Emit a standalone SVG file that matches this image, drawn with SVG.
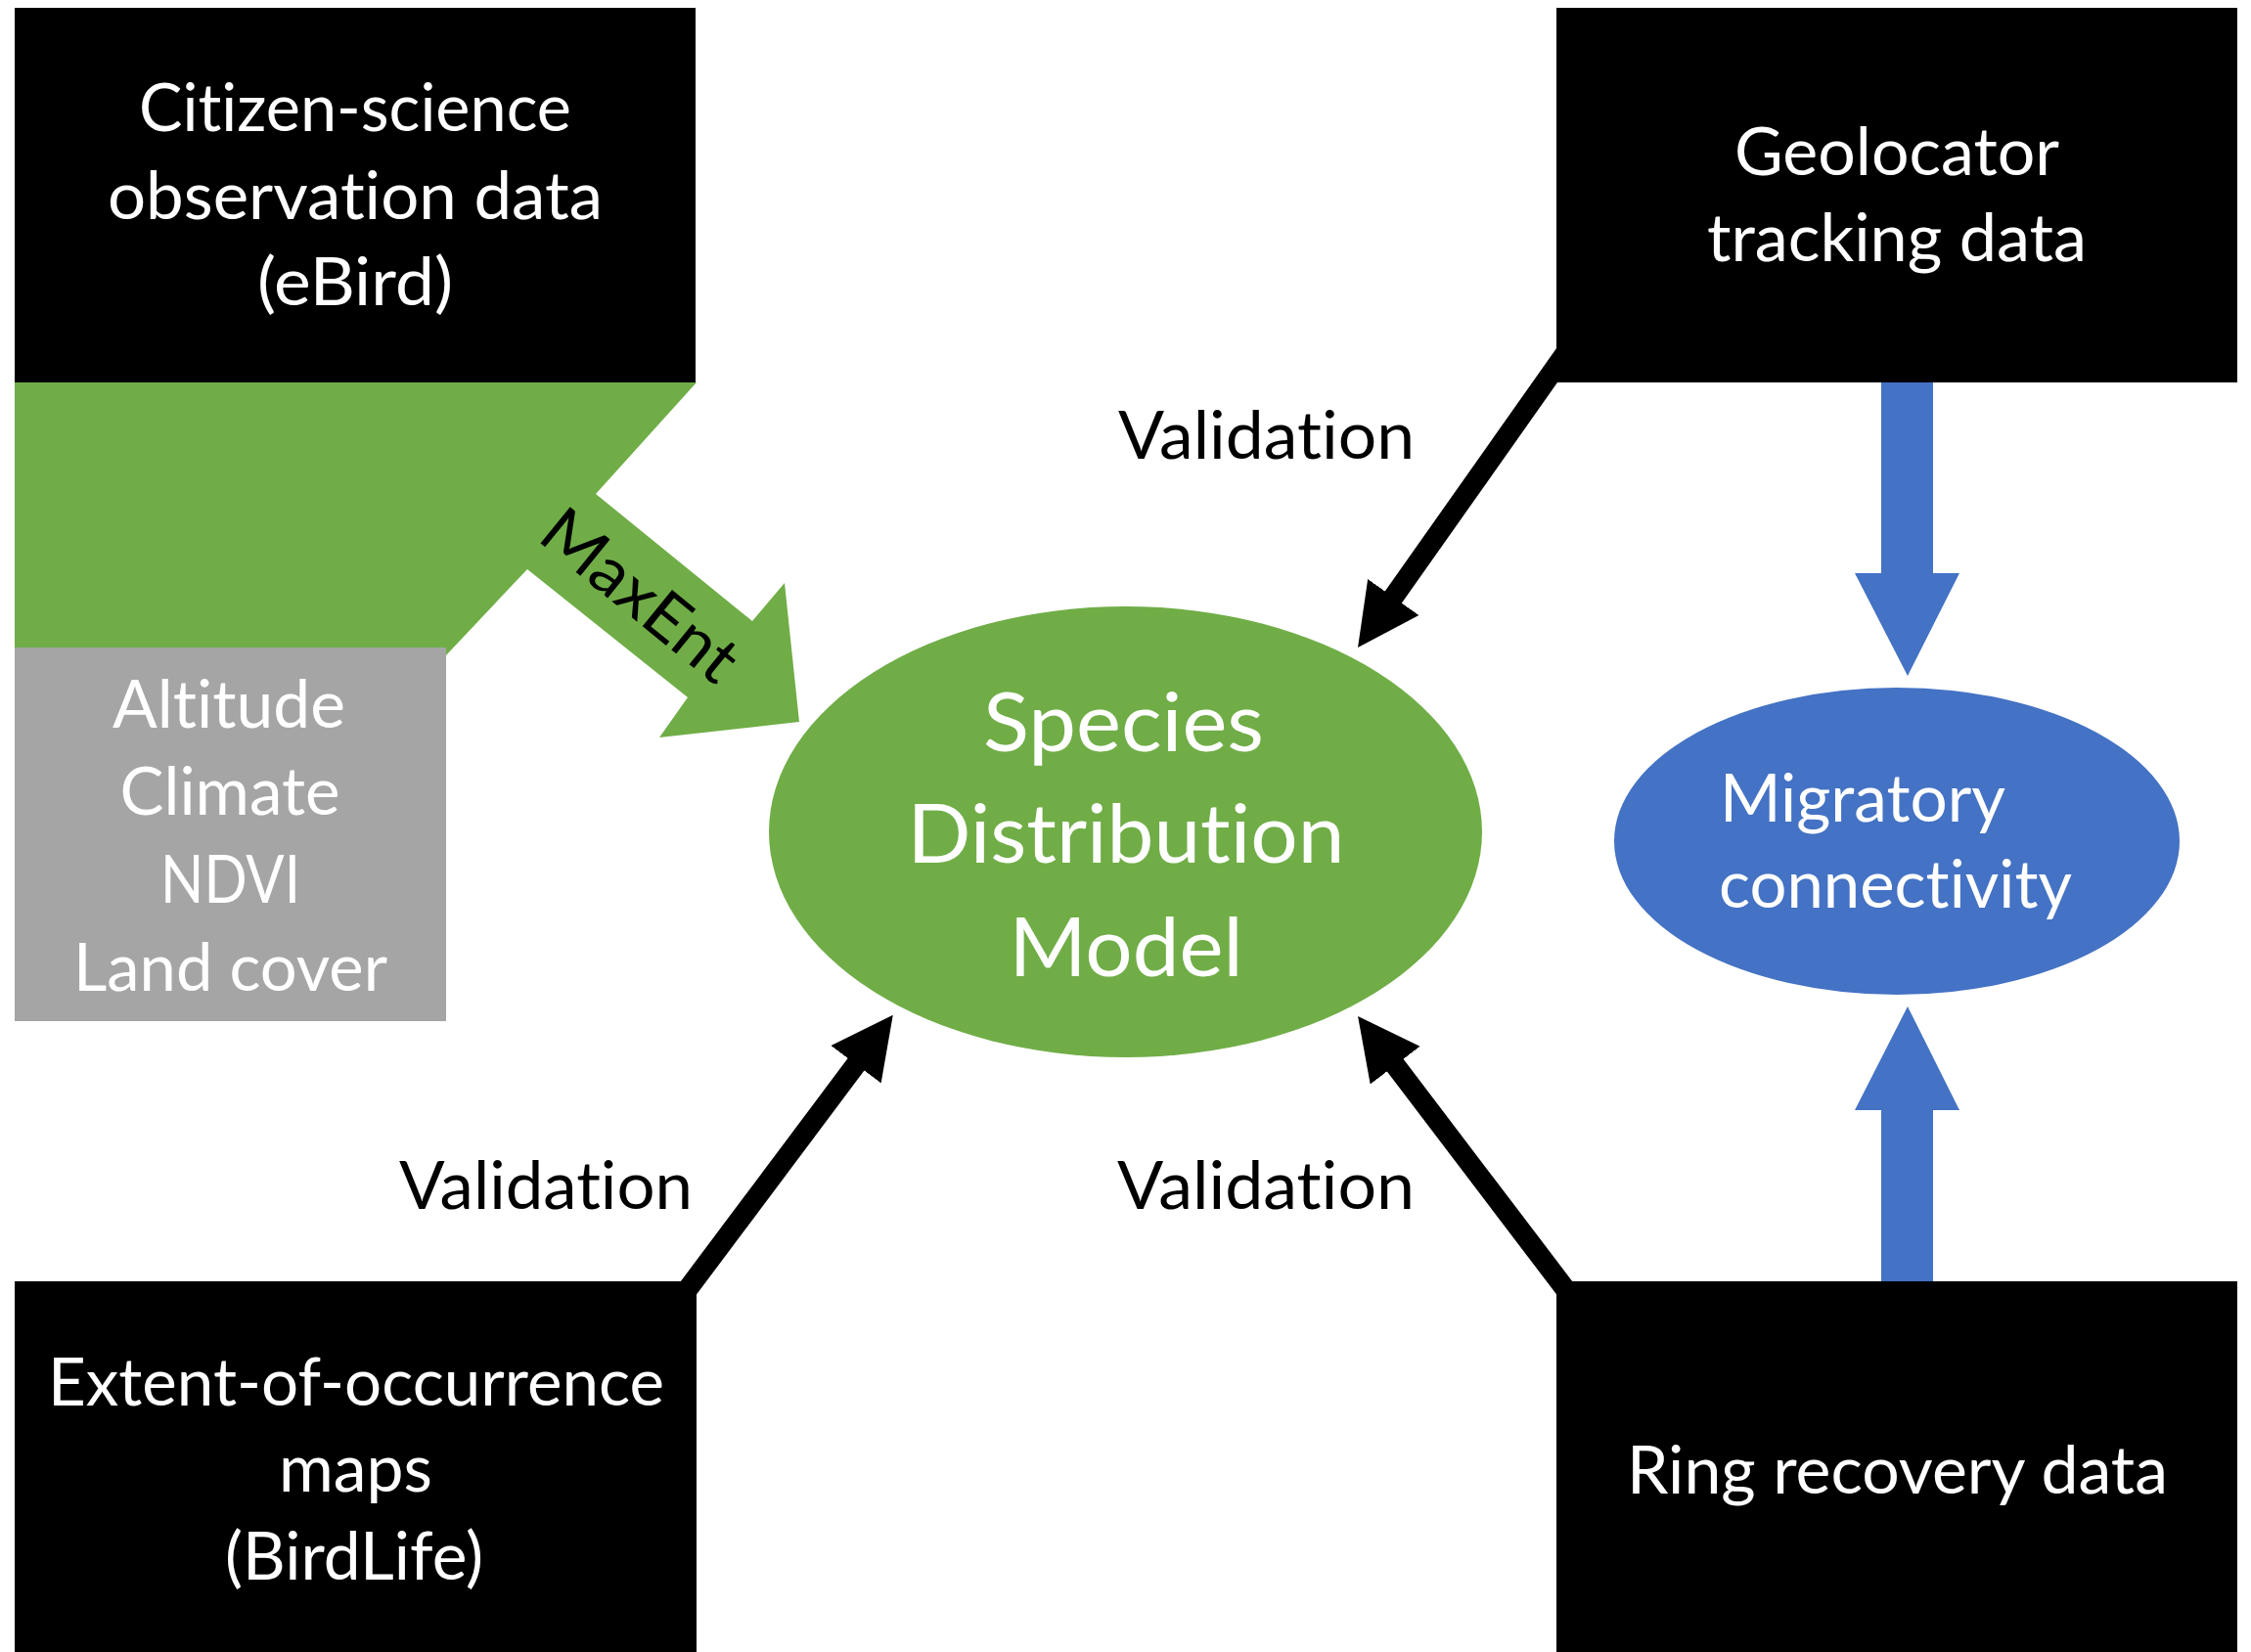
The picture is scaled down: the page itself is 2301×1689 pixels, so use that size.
<svg xmlns="http://www.w3.org/2000/svg" width="2301" height="1689" viewBox="0 0 2301 1689">
<style>
.box{fill:#000000}
.gray{fill:#A5A5A5}
.sdm{fill:#70AD47}
.mig{fill:#4472C4}
.t{font-family:Lato,"Open Sans","Liberation Sans",sans-serif;font-size:67px;fill:#ffffff;text-anchor:middle;font-variant-ligatures:none;font-feature-settings:"liga" 0,"clig" 0}
.big{font-size:83px}
.lbl{fill:#000000}
.st{text-anchor:start}
.ln{fill:none;stroke:#000000;stroke-width:21;stroke-linecap:butt}
</style>
<defs>
<marker id="ah" markerUnits="userSpaceOnUse" viewBox="0 0 63 64" markerWidth="63" markerHeight="64" refX="15" refY="32" orient="auto">
<path d="M0,0 L63,32 L0,64 z" fill="#000000"/>
</marker>
</defs>
<rect width="2301" height="1689" fill="#ffffff"/>
<g id="connectors">
<g id="maxent-arrow">
<polygon class="sdm" points="15,391 712,391 609,505 769,635 802,596 817,738 674,754 703,713 539,582 456,670 456,662 15,662"/>
<text class="t lbl" x="655" y="632" textLength="238" lengthAdjust="spacingAndGlyphs" transform="rotate(39.1 655 608)">MaxEnt</text>
</g>
<line class="ln" x1="1600" y1="361.5" x2="1415.7" y2="622.8" marker-end="url(#ah)"/>
<line class="ln" x1="1610" y1="1331" x2="1417.1" y2="1077.2" marker-end="url(#ah)"/>
<line class="ln" x1="694" y1="1330" x2="884" y2="1076.2" marker-end="url(#ah)"/>
<polygon class="mig" points="1923,380 1976,380 1976,586 2003,586 1950,691 1896,586 1923,586"/>
<polygon class="mig" points="1923,1320 1976,1320 1976,1135 2003,1135 1950,1029 1896,1135 1923,1135"/>
<text class="t lbl st" x="1143" y="469" textLength="303" lengthAdjust="spacingAndGlyphs">Validation</text>
<text class="t lbl st" x="1142" y="1236" textLength="304" lengthAdjust="spacingAndGlyphs">Validation</text>
<text class="t lbl st" x="408" y="1236" textLength="300" lengthAdjust="spacingAndGlyphs">Validation</text>
</g>
<g id="citizen">
<rect class="box" x="15" y="8" width="696" height="383"/>
<text class="t" x="363" y="134" textLength="442" lengthAdjust="spacingAndGlyphs">Citizen-science</text>
<text class="t" x="363" y="224" textLength="506" lengthAdjust="spacingAndGlyphs">observation data</text>
<text class="t" x="363" y="312" textLength="200" lengthAdjust="spacingAndGlyphs">(eBird)</text>
</g>
<g id="environment">
<rect class="gray" x="15" y="662" width="441" height="382"/>
<text class="t" x="234" y="744" textLength="238" lengthAdjust="spacingAndGlyphs">Altitude</text>
<text class="t" x="235" y="833" textLength="225" lengthAdjust="spacingAndGlyphs">Climate</text>
<text class="t" x="235.5" y="923" textLength="143" lengthAdjust="spacingAndGlyphs">NDVI</text>
<text class="t" x="235.5" y="1013" textLength="321" lengthAdjust="spacingAndGlyphs">Land cover</text>
</g>
<g id="geolocator">
<rect class="box" x="1591" y="8" width="696" height="383"/>
<text class="t" x="1939" y="179" textLength="332" lengthAdjust="spacingAndGlyphs">Geolocator</text>
<text class="t" x="1939" y="267" textLength="388" lengthAdjust="spacingAndGlyphs">tracking data</text>
</g>
<g id="extent">
<rect class="box" x="15" y="1310" width="697" height="379"/>
<text class="t" x="364" y="1437" textLength="630" lengthAdjust="spacingAndGlyphs">Extent-of-occurrence</text>
<text class="t" x="363.5" y="1525" textLength="157" lengthAdjust="spacingAndGlyphs">maps</text>
<text class="t" x="362" y="1615" textLength="264" lengthAdjust="spacingAndGlyphs">(BirdLife)</text>
</g>
<g id="ring">
<rect class="box" x="1591" y="1310" width="696" height="379"/>
<text class="t" x="1939.5" y="1527" textLength="553" lengthAdjust="spacingAndGlyphs">Ring recovery data</text>
</g>
<g id="sdm">
<ellipse class="sdm" cx="1150.5" cy="850.5" rx="364.5" ry="230.5"/>
<text class="t big" x="1148.5" y="768" textLength="287" lengthAdjust="spacingAndGlyphs">Species</text>
<text class="t big" x="1151" y="882" textLength="447" lengthAdjust="spacingAndGlyphs">Distribution</text>
<text class="t big" x="1151" y="998" textLength="239" lengthAdjust="spacingAndGlyphs">Model</text>
</g>
<g id="migratory">
<ellipse class="mig" cx="1939" cy="860" rx="289" ry="157"/>
<text class="t st" x="1758" y="840" textLength="292" lengthAdjust="spacingAndGlyphs">Migratory</text>
<text class="t st" x="1757" y="928" textLength="361" lengthAdjust="spacingAndGlyphs">connectivity</text>
</g>
</svg>
